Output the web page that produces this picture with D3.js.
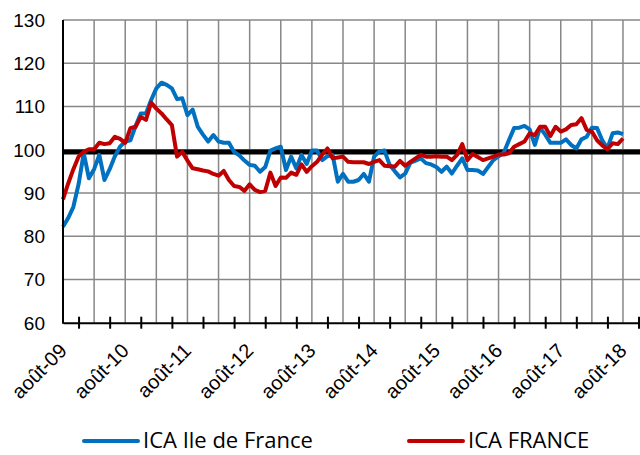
<!DOCTYPE html>
<html>
<head>
<meta charset="utf-8">
<script src="https://cdn.jsdelivr.net/npm/d3@7/dist/d3.min.js"></script>
<style>
  html, body { margin: 0; padding: 0; background: #fff; }
  svg { display: block; }
</style>
</head>
<body>
<svg id="chart" width="640" height="455"></svg>
<script>
// monthly values, août-09 (index 0) .. août-18 (index 108)
var ileDeFrance = [
  82.2, 84.2, 86.8, 92.0, 99.2, 93.4, 95.5, 98.8, 93.0, 95.5,
  98.5, 100.7, 101.9, 102.2, 105.5, 108.4, 108.4, 111.5, 114.2, 115.5,
  115.0, 114.2, 111.7, 111.9, 108.0, 109.3, 105.3, 103.5, 101.9, 103.4,
  101.9, 101.6, 101.6, 99.5, 98.7, 97.5, 96.5, 96.3, 94.9, 96.0,
  99.8, 100.3, 100.7, 95.3, 98.4, 95.7, 98.8, 96.7, 99.8, 99.8,
  97.6, 98.5, 98.8, 92.6, 94.4, 92.6, 92.6, 93.0, 94.4, 92.6,
  98.4, 99.6, 99.8, 96.5, 95.0, 93.6, 94.5, 97.0, 97.5, 98.0,
  96.9, 96.6, 96.0, 94.9, 96.1, 94.5, 96.3, 98.0, 95.3, 95.3,
  95.2, 94.4, 96.0, 97.6, 98.5, 99.3, 102.2, 105.0, 105.1, 105.5,
  104.7, 101.1, 105.1, 103.5, 101.6, 101.6, 101.6, 102.4, 101.1, 100.3,
  102.4, 103.0, 105.1, 105.0, 102.2, 100.3, 103.8, 104.0, 103.6
];
var france = [
  88.5, 92.2, 95.5, 98.4, 99.5, 100.1, 100.1, 101.6, 101.3, 101.5,
  103.0, 102.5, 101.6, 105.0, 105.3, 107.6, 106.9, 110.9, 109.5, 108.4,
  107.0, 105.7, 98.4, 99.5, 97.5, 95.7, 95.5, 95.2, 95.0, 94.4,
  94.0, 95.1, 93.0, 91.6, 91.4, 90.5, 92.0, 90.7, 90.2, 90.5,
  94.7, 91.6, 93.6, 93.5, 94.7, 94.2, 96.6, 94.9, 96.2, 97.2,
  98.9, 100.3, 98.0, 98.2, 98.4, 97.2, 97.1, 97.1, 97.1, 96.7,
  97.2, 97.6, 96.3, 96.2, 96.1, 97.4, 96.3, 97.2, 98.0, 98.8,
  98.4, 98.4, 98.5, 98.4, 98.4, 97.6, 98.8, 101.3, 97.6, 99.0,
  98.3, 97.6, 98.0, 98.4, 98.9, 98.9, 99.2, 100.7, 101.3, 101.9,
  103.8, 103.4, 105.3, 105.3, 103.2, 105.3, 104.2, 104.7, 105.7, 105.9,
  107.3, 104.6, 104.2, 102.2, 101.0, 100.1, 101.5, 101.3, 102.6
];
var yearLabels = ["août-09", "août-10", "août-11", "août-12", "août-13",
                  "août-14", "août-15", "août-16", "août-17", "août-18"];
var yTicks = [60, 70, 80, 90, 100, 110, 120, 130];
var refValue = 99.5;
var seriesNames = ["ICA Ile de France", "ICA FRANCE"];
var seriesColors = ["#0070C0", "#C00000"];

var svg = d3.select("#chart");

var plotLeft = 63, plotTop = 20, plotBottom = 322.7;

var x = d3.scaleLinear().domain([0, 112]).range([plotLeft, plotLeft + 112 * 5.185]);
var y = d3.scaleLinear().domain([60, 130]).range([plotBottom, plotTop]);
var plotRight = x(112);

// horizontal grid
svg.append("g")
  .selectAll("line")
  .data(yTicks.filter(function (d) { return d > 60; }))
  .join("line")
  .attr("x1", plotLeft).attr("x2", plotRight)
  .attr("y1", function (d) { return y(d); })
  .attr("y2", function (d) { return y(d); })
  .attr("stroke", "#878787")
  .attr("stroke-width", 1.5);

// vertical grid, every 6 months from the first août
svg.append("g")
  .selectAll("line")
  .data(d3.range(6, 112, 6))
  .join("line")
  .attr("x1", function (d) { return x(d); })
  .attr("x2", function (d) { return x(d); })
  .attr("y1", plotTop).attr("y2", plotBottom)
  .attr("stroke", "#878787")
  .attr("stroke-width", 1.5);

// y labels
svg.append("g")
  .selectAll("text")
  .data(yTicks)
  .join("text")
  .attr("x", 45)
  .attr("y", function (d) { return y(d); })
  .attr("dy", "0.36em")
  .attr("text-anchor", "end")
  .style("font-family", "'Liberation Sans', Arial, sans-serif")
  .style("font-size", "19px")
  .attr("fill", "#000")
  .text(function (d) { return d; });

// reference line at 100
svg.append("line")
  .attr("x1", plotLeft).attr("x2", plotRight)
  .attr("y1", y(refValue)).attr("y2", y(refValue))
  .attr("stroke", "#000")
  .attr("stroke-width", 5);

// series
var line = d3.line()
  .x(function (d, i) { return x(i); })
  .y(function (d) { return y(d); });

[ileDeFrance, france].forEach(function (values, k) {
  svg.append("path")
    .datum(values)
    .attr("d", line)
    .attr("fill", "none")
    .attr("stroke", seriesColors[k])
    .attr("stroke-width", 4)
    .attr("stroke-linejoin", "round");
});

// axes
var xAxis = d3.axisBottom(x)
  .tickValues(d3.range(3, 112, 6))
  .tickSizeInner(6)
  .tickSizeOuter(0)
  .tickFormat("");
var gx = svg.append("g")
  .attr("transform", "translate(0," + plotBottom + ")")
  .call(xAxis);
gx.select(".domain").attr("stroke", "#000").attr("stroke-width", 2);
gx.selectAll(".tick line")
  .attr("stroke", "#000")
  .attr("stroke-width", 2)
  .attr("y1", -6).attr("y2", 6);

svg.append("line")
  .attr("x1", plotLeft).attr("x2", plotLeft)
  .attr("y1", plotTop).attr("y2", plotBottom + 1)
  .attr("stroke", "#000")
  .attr("stroke-width", 2);

// year labels, rotated
svg.append("g")
  .selectAll("text")
  .data(yearLabels)
  .join("text")
  .attr("transform", function (d, i) {
    return "translate(" + (x(i * 12) + 5) + ",352) rotate(-45)";
  })
  .attr("text-anchor", "end")
  .style("font-family", "'Liberation Sans', Arial, sans-serif")
  .style("font-size", "20px")
  .attr("fill", "#000")
  .text(function (d) { return d; });

// legend
var legendX = [84, 409];
var lg = svg.append("g")
  .selectAll("g")
  .data(seriesNames)
  .join("g")
  .attr("transform", function (d, i) { return "translate(" + legendX[i] + ",441)"; });
lg.append("line")
  .attr("x1", 0).attr("x2", 54)
  .attr("stroke", function (d, i) { return seriesColors[i]; })
  .attr("stroke-width", 4)
  .attr("stroke-linecap", "round");
lg.append("text")
  .attr("x", 59)
  .attr("y", 7)
  .style("font-family", "'Open Sans', sans-serif")
  .style("font-size", "22px")
  .attr("fill", "#000")
  .text(function (d) { return d; });
</script>
</body>
</html>
